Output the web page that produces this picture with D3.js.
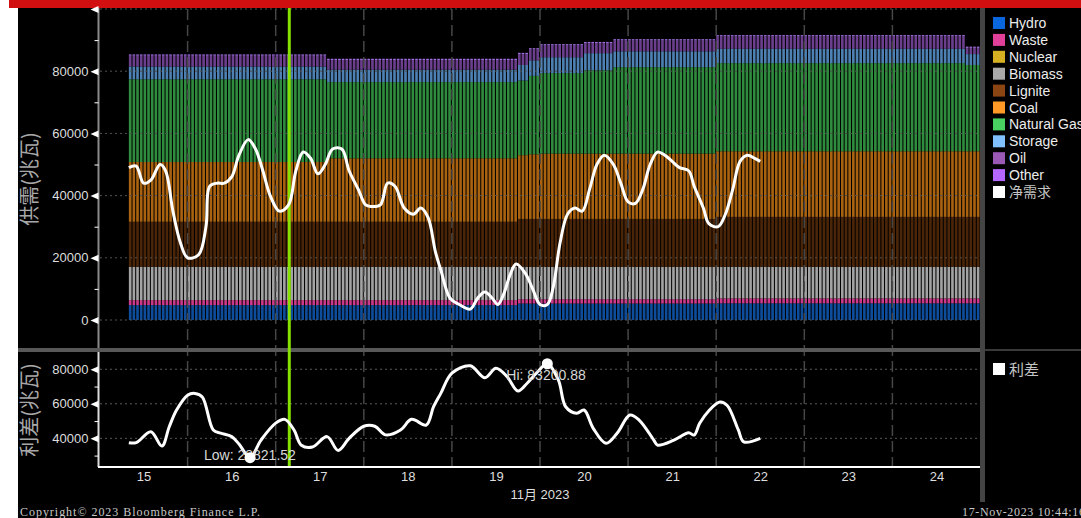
<!DOCTYPE html>
<html>
<head>
<meta charset="utf-8">
<script src="https://cdn.jsdelivr.net/npm/d3@7"></script>
<style>
  body { margin: 0; background: #000; overflow: hidden; }
  svg { display: block; }
  text { font-family: "Liberation Sans", Arial, sans-serif; }
</style>
</head>
<body>
<svg id="chart" width="1081" height="518"></svg>
<script>
// stack order, bottom first (legend lists them top-down the same way)
const fuels = ['Hydro', 'Waste', 'Nuclear', 'Biomass', 'Lignite', 'Coal', 'Natural Gas', 'Storage', 'Oil', 'Other'];

// supply blocks: first hour of each block, hours after 15 Nov 00:00
const blockStart = [8, 62, 114, 117, 120, 132, 140, 168, 236];
const hydro    = [4800, 4800, 5300, 5300, 5300, 5300, 5300, 5360, 5360];
const waste    = [1600, 1600, 1400, 1400, 1400, 1400, 1400, 1610, 1610];
const nuclear  = [0, 0, 0, 0, 0, 0, 0, 0, 0];
const biomass  = [10700, 10700, 10400, 10400, 10400, 10400, 10400, 10130, 10130];
const lignite  = [14500, 14500, 15400, 15400, 15400, 15400, 15400, 16060, 16060];
const coal     = [19200, 20400, 20500, 20800, 21000, 21000, 21000, 21090, 21090];
const gas      = [26600, 24500, 24000, 25200, 25900, 26800, 27800, 28350, 27750];
const storage  = [4100, 4000, 5000, 5000, 5100, 5500, 5100, 4600, 3500];
const oil      = [3500, 3100, 3500, 3500, 3800, 3200, 3500, 4000, 2000];
const other    = [400, 400, 400, 400, 400, 400, 400, 400, 400];
const firstHour = 8, lastHour = 239;

// net demand (净需求), hours after 15 Nov 00:00
const netHours = [8, 10, 12, 14, 16.5, 18, 20, 22, 24, 27, 29, 30, 32, 34, 36, 38, 40.5, 42.5, 44.5, 46.5,
  49, 51.5, 53.5, 55.5, 57.5, 59.5, 61.5, 63.5, 66, 68, 70.5, 72.5, 74, 76.5, 78.5, 80.5, 83, 85.5, 87.5, 89.5,
  91.5, 93, 95.5, 98, 101, 103, 105, 107, 108.5, 110, 112, 113.5, 116, 118, 120, 122, 123.5, 125.5, 127.5, 129.5,
  131.5, 133.5, 135.5, 137.5, 140, 142, 144, 146, 148, 150, 152, 154, 156, 158, 160.5, 162, 164.5, 166, 168.5, 170.5,
  172.5, 174.5, 176.5, 178.5, 180];
const netValues = [49000, 49500, 44000, 45000, 50000, 48000, 35000, 25000, 20000, 21000, 30000, 43000, 44000, 44000, 46000, 53000, 58000, 55000, 48000, 40000,
  35000, 37000, 48000, 54000, 52000, 47000, 50000, 55000, 55000, 48000, 42000, 37000, 36500, 37000, 44000, 43000, 36000, 34000, 36000, 33000,
  22000, 16000, 7000, 5000, 3500, 7000, 9000, 7000, 5000, 8000, 15000, 18000, 15000, 10000, 5000, 5000, 10000, 25000, 34000, 36000,
  35000, 42000, 50000, 53000, 50000, 44000, 38000, 37500, 42000, 50000, 54000, 53000, 51000, 49000, 48000, 43000, 36000, 31000, 30000, 34000,
  42000, 51000, 53000, 52000, 51000];

// spread (利差)
const spreadHours = [8, 10, 14, 17, 19, 21, 24, 26, 28, 31, 33, 36, 38, 41, 44, 48, 50.5, 53, 55, 58,
  62, 65, 68, 72, 75, 78, 82, 85, 89, 91, 93, 96, 101, 105, 108, 111, 114, 116.5, 119, 122,
  125, 127, 130, 132, 134.5, 138, 141, 144.5, 147, 151, 152, 156.5, 160.5, 162, 163.5, 166, 169, 171, 174, 175.5, 180];
const spreadValues = [37500, 37500, 43800, 35500, 46700, 56400, 65000, 66000, 64000, 44800, 43000, 41000, 36700, 28821.52, 39000, 48800, 51000, 44800, 36000, 35000,
  41000, 33000, 40000, 47000, 47000, 42000, 44800, 51000, 47700, 58300, 66200, 77800, 82000, 75100, 80600, 75800, 67400, 71900, 77700, 83200.88,
  73800, 58300, 54500, 56400, 45800, 37100, 42900, 53500, 50600, 39000, 36100, 39000, 43200, 41900, 48700, 56000, 61000, 59000, 45000, 38000, 40000];

const topTicks = [0, 20000, 40000, 60000, 80000, 100000];
const topMinor = [10000, 30000, 50000, 70000, 90000];
const lowTicks = [40000, 60000, 80000];
const lowMinor = [30000, 50000, 70000];
const dayLabels = [15, 16, 17, 18, 19, 20, 21, 22, 23, 24];
const nowHour = 51.7;   // marker line, 17 Nov

const barColor = {
  'Hydro': '#0d4d9c', 'Waste': '#cd3a8b', 'Nuclear': '#b89a1c', 'Biomass': '#a3a3a3', 'Lignite': '#4b2508',
  'Coal': '#a9620f', 'Natural Gas': '#2f8b3d', 'Storage': '#4e81b3', 'Oil': '#6b3f8d', 'Other': '#9f6fdf'
};
const legendColor = {
  'Hydro': '#0a66dc', 'Waste': '#e0409a', 'Nuclear': '#d4b022', 'Biomass': '#a9a9a9', 'Lignite': '#8b4513',
  'Coal': '#ff9a26', 'Natural Gas': '#48d060', 'Storage': '#80c0ff', 'Oil': '#9b59b6', 'Other': '#b466ff'
};

const hourDate = h => new Date(2023, 10, 15, 0, h * 60);

const svg = d3.select('#chart');

// frame pieces
svg.append('rect').attr('x', 0).attr('y', 0).attr('width', 18).attr('height', 518).attr('fill', '#fff');
svg.append('rect').attr('x', 9).attr('y', 0).attr('width', 1072).attr('height', 8).attr('fill', '#d20f10');

const x = d3.scaleTime()
  .domain([new Date(2023, 10, 15), new Date(2023, 10, 25)])
  .range([99.5, 980.5]);
const yTop = d3.scaleLinear().domain([-9000, 100000]).range([348, 9]);
const yLow = d3.scaleLinear().domain([23400, 90000]).range([467, 352]);

// hourly rows for the stack
const series = [hydro, waste, nuclear, biomass, lignite, coal, gas, storage, oil, other];
const rows = d3.range(firstHour, lastHour + 1).map(h => {
  const b = d3.bisectRight(blockStart, h) - 1;
  const row = { date: hourDate(h) };
  fuels.forEach((f, i) => { row[f] = series[i][b]; });
  return row;
});
const stacked = d3.stack().keys(fuels)(rows);
const step = x(hourDate(1)) - x(hourDate(0));

const bars = svg.append('g');
bars.selectAll('g')
  .data(stacked)
  .join('g')
    .attr('fill', d => barColor[d.key])
  .selectAll('rect')
  .data(d => d)
  .join('rect')
    .attr('x', d => x(d.data.date))
    .attr('width', step * 0.72)
    .attr('y', d => yTop(d[1]))
    .attr('height', d => Math.max(0, yTop(d[0]) - yTop(d[1])));

// grid
const grid = svg.append('g').attr('fill', 'none');
grid.selectAll('.hgrid-top')
  .data(topTicks)
  .join('line')
    .attr('class', 'hgrid-top')
    .attr('x1', 100).attr('x2', 980)
    .attr('y1', d => yTop(d)).attr('y2', d => yTop(d))
    .attr('stroke', '#525252')
    .attr('stroke-dasharray', '2,3');
grid.selectAll('.hgrid-low')
  .data(lowTicks)
  .join('line')
    .attr('class', 'hgrid-low')
    .attr('x1', 100).attr('x2', 980)
    .attr('y1', d => yLow(d)).attr('y2', d => yLow(d))
    .attr('stroke', '#5a5a5a')
    .attr('stroke-dasharray', '2,3');
const dayStarts = d3.range(16, 25).map(d => new Date(2023, 10, d));
grid.selectAll('.vgrid')
  .data(dayStarts)
  .join('line')
    .attr('class', 'vgrid')
    .attr('x1', d => x(d)).attr('x2', d => x(d))
    .attr('y1', 9).attr('y2', 466)
    .attr('stroke', '#464646')
    .attr('stroke-width', 1.5)
    .attr('stroke-dasharray', '11,5');

// panel separator and right edge
svg.append('rect').attr('x', 18).attr('y', 348).attr('width', 962).attr('height', 4).attr('fill', '#585858');
svg.append('rect').attr('x', 985).attr('y', 349).attr('width', 96).attr('height', 2).attr('fill', '#3a3a3a');
svg.append('rect').attr('x', 980).attr('y', 8).attr('width', 5).attr('height', 494).attr('fill', '#444');

// y axes
function yAxis(scale, major, minor, showTop, axisColor, y0, y1) {
  const g = svg.append('g').attr('transform', 'translate(98.5,0)');
  g.append('line').attr('y1', y0).attr('y2', y1).attr('stroke', axisColor).attr('stroke-width', 2);
  const ax = g.append('g')
    .call(d3.axisLeft(scale).tickValues(major).tickSize(0).tickPadding(10)
      .tickFormat(d => (showTop || d < 100000) ? d3.format('d')(d) : ''));
  ax.select('.domain').remove();
  ax.selectAll('text').attr('fill', '#dedede').style('font-size', '13px');
  ax.selectAll('.tick').append('path').attr('d', 'M0,-3.5L-8,0L0,3.5Z').attr('fill', '#fff');
  const mn = g.append('g').call(d3.axisLeft(scale).tickValues(minor).tickSize(4).tickFormat(''));
  mn.select('.domain').remove();
  mn.selectAll('line').attr('stroke', '#fff');
}
yAxis(yTop, topTicks, topMinor, false, '#8a8a8a', 8, 348);
yAxis(yLow, lowTicks, lowMinor, true, '#ddd', 352, 467);

// x axis
svg.append('line').attr('x1', 98).attr('x2', 980).attr('y1', 467).attr('y2', 467)
  .attr('stroke', '#fff').attr('stroke-width', 2);
const xa = svg.append('g').attr('transform', 'translate(0,467)')
  .call(d3.axisBottom(x)
    .tickValues(dayLabels.map(d => new Date(2023, 10, d, 12)))
    .tickSize(0).tickPadding(5)
    .tickFormat(d3.timeFormat('%-d')));
xa.select('.domain').remove();
xa.selectAll('text').attr('fill', '#dedede').style('font-size', '13px');
svg.append('text').attr('x', 540).attr('y', 499).attr('text-anchor', 'middle')
  .attr('fill', '#dedede').style('font-size', '13px')
  .style('font-family', '"Liberation Sans", "Noto Sans CJK SC", sans-serif')
  .text('11月 2023');

// now marker
svg.append('line')
  .attr('x1', x(hourDate(nowHour))).attr('x2', x(hourDate(nowHour)))
  .attr('y1', 8).attr('y2', 466)
  .attr('stroke', '#86e000').attr('stroke-width', 3);

// lines
const netLine = d3.line()
  .x((d, i) => x(hourDate(netHours[i])))
  .y(d => yTop(d))
  .curve(d3.curveCatmullRom.alpha(0.5));
svg.append('path').datum(netValues)
  .attr('d', netLine).attr('fill', 'none').attr('stroke', '#fff').attr('stroke-width', 3);

const spreadLine = d3.line()
  .x((d, i) => x(hourDate(spreadHours[i])))
  .y(d => yLow(d))
  .curve(d3.curveCatmullRom.alpha(0.5));
svg.append('path').datum(spreadValues)
  .attr('d', spreadLine).attr('fill', 'none').attr('stroke', '#fff').attr('stroke-width', 3);

// hi / low markers
const hiI = d3.maxIndex(spreadValues), loI = d3.minIndex(spreadValues);
const fmt = d3.format('.2f');
[[loI, 'Low: ', -46, -2], [hiI, 'Hi: ', -41, 12]].forEach(([i, lbl, dx, dy]) => {
  const cx = x(hourDate(spreadHours[i])), cy = yLow(spreadValues[i]);
  svg.append('text').attr('x', cx + dx).attr('y', cy + dy + 4)
    .attr('fill', '#d8d8d8').style('font-size', '14px').text(lbl + fmt(spreadValues[i]));
  svg.append('circle').attr('cx', cx).attr('cy', cy).attr('r', 5.5).attr('fill', '#fff');
});

// axis titles
[['供需(兆瓦)', 179], ['利差(兆瓦)', 410]].forEach(([t, cy]) => {
  svg.append('text')
    .attr('transform', `translate(37,${cy}) rotate(-90)`)
    .attr('text-anchor', 'middle')
    .attr('fill', '#a8a8a8')
    .style('font-family', '"Noto Sans CJK SC", sans-serif')
    .style('font-size', '20px')
    .text(t);
});

// legends
const legItems = fuels.map(f => ({ name: f, color: legendColor[f] })).concat([{ name: '净需求', color: '#fff' }]);
const leg = svg.append('g').attr('transform', 'translate(993,17)');
leg.selectAll('g')
  .data(legItems)
  .join('g')
    .attr('transform', (d, i) => `translate(0,${i * 16.9})`)
  .call(g => {
    g.append('rect').attr('width', 12).attr('height', 12).attr('fill', d => d.color);
    g.append('text').attr('x', 16).attr('y', 11)
      .attr('fill', d => d.name === '净需求' ? '#c4c4c4' : '#ececec')
      .style('font-size', '14px')
      .style('font-family', d => d.name === '净需求' ? '"Noto Sans CJK SC", sans-serif' : null)
      .text(d => d.name);
  });
const leg2 = svg.append('g').attr('transform', 'translate(993,363)');
leg2.append('rect').attr('width', 12).attr('height', 12).attr('fill', '#fff');
leg2.append('text').attr('x', 16).attr('y', 12).attr('fill', '#c4c4c4')
  .style('font-family', '"Noto Sans CJK SC", sans-serif').style('font-size', '15px').text('利差');

// footer
svg.append('text').attr('x', 20).attr('y', 516).attr('fill', '#c8c8c8')
  .style('font-family', '"Liberation Serif", serif').style('font-size', '12px')
  .attr('textLength', 240).attr('lengthAdjust', 'spacing')
  .text('Copyright\u00a9 2023 Bloomberg Finance L.P.');
svg.append('text').attr('x', 962).attr('y', 516).attr('fill', '#c8c8c8')
  .style('font-family', '"Liberation Serif", serif').style('font-size', '12px')
  .attr('textLength', 123).attr('lengthAdjust', 'spacing')
  .text('17-Nov-2023  10:44:16');
</script>
</body>
</html>
